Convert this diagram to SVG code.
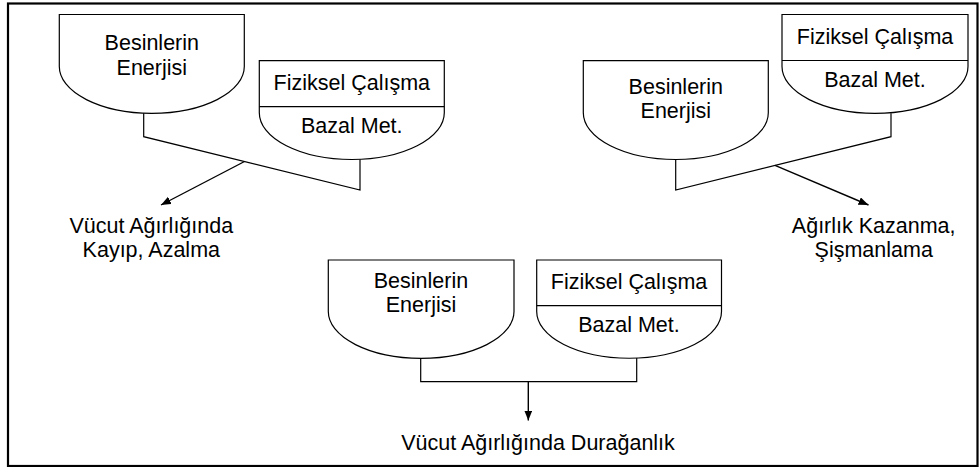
<svg xmlns="http://www.w3.org/2000/svg" width="979" height="467" viewBox="0 0 979 467">
<style>
.shape{fill:#fff;stroke:#000;stroke-width:1.2}
.div{stroke:#000;stroke-width:1.2;fill:none}
.conn{fill:none;stroke:#000;stroke-width:1.2}
.arrow{fill:none;stroke:#000;stroke-width:1.4;marker-end:url(#ah)}
text{font-family:"Liberation Sans",Arial,sans-serif;font-size:21.5px;fill:#000;text-anchor:middle}
</style>
<defs>
<marker id="ah" markerUnits="userSpaceOnUse" markerWidth="12" markerHeight="10" refX="10" refY="4" orient="auto">
<path d="M0,0 L10,4 L0,8 Z" fill="#000"/>
</marker>
</defs>
<rect x="8" y="3.5" width="969.5" height="462.5" fill="#fff" stroke="#000" stroke-width="2.2"/>

<g id="connectors">
<polyline class="conn" points="143.7,113 143.7,136.7 360,190 360,159.3"/>
<line class="arrow" x1="244.5" y1="161.5" x2="161" y2="205"/>
<polyline class="conn" points="675.7,159.3 675.7,190 891,136.7 891,113.3"/>
<line class="arrow" x1="775" y1="165.4" x2="868.5" y2="205"/>
<polyline class="conn" points="420.7,358 420.7,381.7 636.7,381.7 636.7,358"/>
<line class="arrow" x1="528.3" y1="381.7" x2="528.3" y2="420.5"/>
</g>

<g id="L-besin">
<path class="shape" d="M59.3,14.5 H244.3 V66.5 A92.5,46.8 0 0 1 59.3,66.5 Z"/>
<text x="151.8" y="50">Besinlerin</text>
<text x="151.8" y="74.5">Enerjisi</text>
</g>
<g id="L-fizik">
<path class="shape" d="M259.3,60.7 H444.3 V112.7 A92.5,46.8 0 0 1 259.3,112.7 Z"/>
<line class="div" x1="259.3" y1="106.7" x2="444.3" y2="106.7"/>
<text x="351.8" y="90">Fiziksel Çalışma</text>
<text x="351.8" y="132.7">Bazal Met.</text>
</g>
<g id="L-label">
<text x="151.3" y="232.7">Vücut Ağırlığında</text>
<text x="151.3" y="256.7">Kayıp, Azalma</text>
</g>

<g id="R-besin">
<path class="shape" d="M583.3,60.7 H768.3 V112.7 A92.5,46.8 0 0 1 583.3,112.7 Z"/>
<text x="675.8" y="94.3">Besinlerin</text>
<text x="675.8" y="118.3">Enerjisi</text>
</g>
<g id="R-fizik">
<path class="shape" d="M782,14.5 H968 V66.5 A93,46.8 0 0 1 782,66.5 Z"/>
<line class="div" x1="782" y1="60.5" x2="968" y2="60.5"/>
<text x="875" y="43.5">Fiziksel Çalışma</text>
<text x="875" y="87">Bazal Met.</text>
</g>
<g id="R-label">
<text x="873.7" y="232.7">Ağırlık Kazanma,</text>
<text x="873.7" y="256.7">Şişmanlama</text>
</g>

<g id="B-besin">
<path class="shape" d="M328.3,260 H514 V311.5 A92.85,46.8 0 0 1 328.3,311.5 Z"/>
<text x="421" y="288.3">Besinlerin</text>
<text x="421" y="311.7">Enerjisi</text>
</g>
<g id="B-fizik">
<path class="shape" d="M536.7,260 H721.5 V311.5 A92.4,46.8 0 0 1 536.7,311.5 Z"/>
<line class="div" x1="536.7" y1="305.7" x2="721.5" y2="305.7"/>
<text x="629" y="289.3">Fiziksel Çalışma</text>
<text x="629" y="331.7">Bazal Met.</text>
</g>
<g id="B-label">
<text x="538" y="450">Vücut Ağırlığında Durağanlık</text>
</g>
</svg>
